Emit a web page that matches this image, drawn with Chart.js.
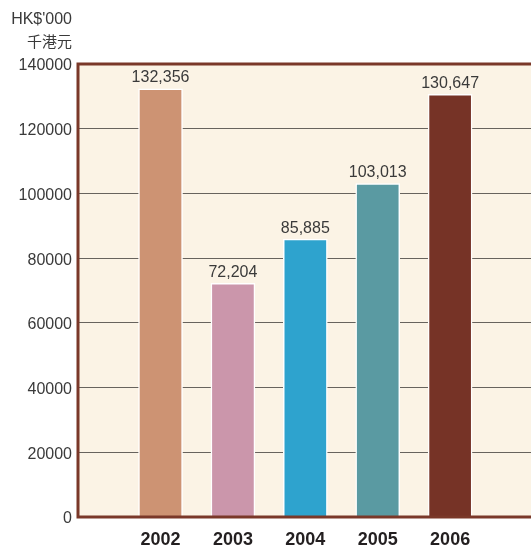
<!DOCTYPE html>
<html>
<head>
<meta charset="utf-8">
<script src="https://cdn.jsdelivr.net/npm/chart.js@4"></script>
<style>
  html, body { margin: 0; padding: 0; background: #ffffff; }
  #wrap { width: 531px; height: 545px; }
</style>
</head>
<body>
<div id="wrap"><canvas id="chartDonativos"></canvas></div>
<script>
/* dados */
const anos = [2002, 2003, 2004, 2005, 2006];
const valores = [132356, 72204, 85885, 103013, 130647];
const coresBarras = ['#cd9373', '#cb96ab', '#2ea3ce', '#5a9aa2', '#763326'];
const ticksY = [0, 20000, 40000, 60000, 80000, 100000, 120000, 140000];
const unidade = ["HK$'000", '千港元'];

const paleta = {
    fundo: '#fbf3e5',
    borda: '#7a3829',
    grade: '#67635d',
    texto: '#3a3a3a',
    eixoX: '#231f20'
};

const FONTE = '"Liberation Sans", Arial, Helvetica, sans-serif';

// fundo creme + moldura marrom (topo, esquerda, base)
const molduraPlugin = {
    id: 'moldura',
    beforeDraw(chart) {
        const { ctx, chartArea: a } = chart;
        ctx.save();
        ctx.fillStyle = paleta.fundo;
        ctx.fillRect(a.left, a.top, a.right - a.left, a.bottom - a.top);
        ctx.restore();
    },
    afterDatasetsDraw(chart) {
        const { ctx, chartArea: a } = chart;
        ctx.save();
        ctx.strokeStyle = paleta.borda;
        ctx.lineWidth = 3;
        ctx.beginPath();
        ctx.moveTo(a.right, a.top);
        ctx.lineTo(a.left, a.top);
        ctx.lineTo(a.left, a.bottom);
        ctx.lineTo(a.right, a.bottom);
        ctx.stroke();

        // unidade no canto
        ctx.fillStyle = paleta.texto;
        ctx.textAlign = 'right';
        ctx.textBaseline = 'middle';
        ctx.font = '16px ' + FONTE;
        ctx.fillText(unidade[0], a.left - 6, 20);
        ctx.font = '15px "Noto Sans CJK TC", sans-serif';
        ctx.fillText(unidade[1], a.left - 6, 41);
        ctx.restore();
    }
};

// valores acima das barras
const rotulosPlugin = {
    id: 'rotulos',
    afterDatasetsDraw(chart) {
        const { ctx } = chart;
        const meta = chart.getDatasetMeta(0);
        ctx.save();
        ctx.fillStyle = paleta.texto;
        ctx.font = '16px ' + FONTE;
        ctx.textAlign = 'center';
        ctx.textBaseline = 'bottom';
        meta.data.forEach((bar, i) => {
            ctx.fillText(valores[i].toLocaleString('en-US'), bar.x, bar.y - 3);
        });
        ctx.restore();
    }
};

new Chart(document.getElementById('chartDonativos'), {
    type: 'bar',
    data: {
        datasets: [{
            data: anos.map((a, i) => ({ x: a, y: valores[i] })),
            backgroundColor: coresBarras,
            borderColor: '#ffffff',
            borderWidth: { left: 1.5, right: 1.5, top: 1.5, bottom: 0 },
            barThickness: 44
        }]
    },
    options: {
        responsive: true,
        maintainAspectRatio: false,
        animation: false,
        layout: { padding: { top: 64, right: 0, bottom: 0, left: 0 } },
        plugins: {
            legend: { display: false },
            tooltip: { enabled: false }
        },
        scales: {
            x: {
                type: 'linear',
                offset: false,
                min: 2000.86,
                max: 2007.117,
                grid: { display: false, offset: false },
                border: { display: false },
                afterBuildTicks: axis => { axis.ticks = anos.map(v => ({ value: v })); },
                afterFit: axis => { axis.height = 28; },
                ticks: {
                    padding: 4,
                    color: paleta.eixoX,
                    font: { family: FONTE, size: 18, weight: 'bold' },
                    callback: v => String(v)
                }
            },
            y: {
                min: 0,
                max: 140000,
                afterBuildTicks: axis => { axis.ticks = ticksY.map(v => ({ value: v })); },
                afterFit: axis => { axis.width = 78; },
                grid: { color: paleta.grade, lineWidth: 1, drawTicks: false },
                border: { display: false },
                ticks: {
                    padding: 6,
                    labelOffset: 2,
                    color: paleta.texto,
                    font: { family: FONTE, size: 16 },
                    callback: v => String(v)
                }
            }
        }
    },
    plugins: [molduraPlugin, rotulosPlugin]
});
</script>
</body>
</html>
